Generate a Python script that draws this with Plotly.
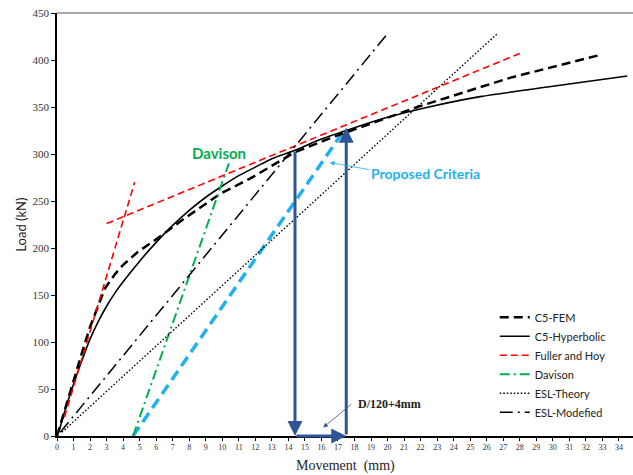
import plotly.graph_objects as go

# ---------------- data ----------------
fem_x = [0.0, 0.5, 1.0, 1.5, 2.0, 2.5, 2.9, 3.5, 4.0, 4.9, 5.9, 7.6, 9.9, 11.7, 14.4, 16.7, 21.8, 27.4, 33.0]
fem_y = [0, 30, 58, 88, 116, 140, 157, 172, 182, 196, 208, 230, 258, 274, 302, 318, 350, 381, 406]

hyp_x = [0.1, 0.5, 1.0, 1.5, 2.0, 2.5, 3.0, 3.5, 4.0, 5.0, 6.0, 7.0, 8.0, 9.0, 10.0, 11.0, 12.0, 13.0,
         14.4, 16.0, 18.0, 20.0, 22.5, 25.6, 30.0, 34.5]
hyp_y = [4, 28, 55, 80, 103, 122, 138, 152, 164, 186, 206, 224, 240, 254, 266, 277, 286, 295,
         304, 316, 328, 339, 350, 361, 372, 383]

fuller_steep_x = [0.45, 4.7]
fuller_steep_y = [20, 270]
fuller_flat_x = [3.0, 28.0]
fuller_flat_y = [226, 407]

davison_x = [4.6, 10.4]
davison_y = [0, 290]

proposed_x = [4.6, 17.4]
proposed_y = [0, 326]

esl_theory_x = [0.3, 26.7]
esl_theory_y = [4, 429]

esl_mod_x = [0.2, 20.0]
esl_mod_y = [4, 428]

# criteria markers
davison_failure_mm = 14.4
davison_failure_kn = 304
proposed_failure_mm = 17.5
proposed_failure_kn = 328

x_ticks = list(range(0, 36))
y_ticks = list(range(0, 451, 50))

# ---------------- figure ----------------
fig = go.Figure()

fig.add_trace(go.Scatter(x=proposed_x, y=proposed_y, mode="lines", showlegend=False,
                         line=dict(color="#1FB1EC", width=3.5, dash="11px,6px")))
fig.add_trace(go.Scatter(x=fem_x, y=fem_y, mode="lines", name="C5-FEM",
                         line=dict(color="black", width=2.5, dash="9px,5px")))
fig.add_trace(go.Scatter(x=hyp_x, y=hyp_y, mode="lines", name="C5-Hyperbolic",
                         line=dict(color="black", width=1.6, shape="spline", smoothing=0.8)))
fig.add_trace(go.Scatter(x=fuller_steep_x, y=fuller_steep_y, mode="lines", name="Fuller and Hoy",
                         legendgroup="fh", line=dict(color="#FF0000", width=1.6, dash="7px,4px")))
fig.add_trace(go.Scatter(x=fuller_flat_x, y=fuller_flat_y, mode="lines", showlegend=False,
                         legendgroup="fh", line=dict(color="#FF0000", width=1.6, dash="7px,4px")))
fig.add_trace(go.Scatter(x=davison_x, y=davison_y, mode="lines", name="Davison",
                         line=dict(color="#00B050", width=2, dash="10px,4px,2px,4px")))
fig.add_trace(go.Scatter(x=esl_theory_x, y=esl_theory_y, mode="lines", name="ESL-Theory",
                         line=dict(color="black", width=1.4, dash="1.5px,2px")))
fig.add_trace(go.Scatter(x=esl_mod_x, y=esl_mod_y, mode="lines", name="ESL-Modefied",
                         line=dict(color="black", width=1.5, dash="13px,5px,2px,5px")))

arrow_color = "#2F5597"
ann = []
# downward arrow at Davison failure
ann.append(dict(x=davison_failure_mm, y=0, ax=davison_failure_mm, ay=davison_failure_kn,
                xref="x", yref="y", axref="x", ayref="y", text="", showarrow=True,
                arrowhead=2, arrowsize=1, arrowwidth=3, arrowcolor=arrow_color, standoff=0))
# upward arrow at proposed failure
ann.append(dict(x=proposed_failure_mm, y=proposed_failure_kn, ax=proposed_failure_mm, ay=0,
                xref="x", yref="y", axref="x", ayref="y", text="", showarrow=True,
                arrowhead=2, arrowsize=1, arrowwidth=3, arrowcolor=arrow_color, standoff=0))
# horizontal arrow between them
ann.append(dict(x=proposed_failure_mm, y=0, ax=davison_failure_mm, ay=0,
                xref="x", yref="y", axref="x", ayref="y", text="", showarrow=True,
                arrowhead=2, arrowsize=1, arrowwidth=3, arrowcolor=arrow_color, standoff=0))
# D/120+4mm label and pointer
ann.append(dict(x=16.1, y=9, ax=17.9, ay=35, xref="x", yref="y", axref="x", ayref="y",
                text="", showarrow=True, arrowhead=2, arrowsize=1.2, arrowwidth=0.8,
                arrowcolor=arrow_color, standoff=0))
ann.append(dict(x=20.1, y=34, xref="x", yref="y", text="<b>D/120+4mm</b>", showarrow=False,
                font=dict(family="Liberation Serif", size=12, color="#222")))
# Proposed criteria label and pointer
ann.append(dict(x=16.5, y=291, ax=19.0, ay=283, xref="x", yref="y", axref="x", ayref="y",
                text="", showarrow=True, arrowhead=2, arrowsize=1.2, arrowwidth=0.8,
                arrowcolor="#1FB1EC", standoff=0))
ann.append(dict(x=22.3, y=279, xref="x", yref="y", text="<b>Proposed Criteria</b>", showarrow=False,
                font=dict(family="Lato", size=14, color="#1FB1EC")))
# Davison label
ann.append(dict(x=9.8, y=301, xref="x", yref="y", text="<b>Davison</b>", showarrow=False,
                font=dict(family="Lato", size=15, color="#00B050")))
# axis titles
ann.append(dict(x=-0.064, y=0.5, xref="paper", yref="paper", text="Load (kN)", showarrow=False,
                textangle=-90, xanchor="center", yanchor="middle",
                font=dict(family="Lato", size=13, color="#222")))
ann.append(dict(x=0.5, y=-0.07, xref="paper", yref="paper", text="Movement&nbsp;&nbsp;(mm)",
                showarrow=False, xanchor="center", yanchor="middle",
                font=dict(family="Liberation Serif", size=14, color="#222")))

fig.update_layout(
    width=633, height=475,
    margin=dict(l=57, r=0, t=13, b=39),
    paper_bgcolor="white", plot_bgcolor="white",
    annotations=ann,
    legend=dict(x=0.76, y=0.315, xanchor="left", yanchor="top",
                font=dict(family="Lato", size=11, color="#222"),
                bgcolor="rgba(0,0,0,0)", itemwidth=30, tracegroupgap=0),
)
fig.update_xaxes(range=[0, 34.85], tickvals=x_ticks, ticks="outside", ticklen=3,
                 tickcolor="black", showline=True, linecolor="black", linewidth=1.5,
                 mirror=False, showgrid=False, zeroline=False,
                 tickfont=dict(family="Liberation Serif", size=8, color="#333"))
fig.update_yaxes(range=[0, 450], tickvals=y_ticks, ticks="outside", ticklen=4,
                 tickcolor="black", showline=True, linecolor="black", linewidth=1.5,
                 showgrid=False, zeroline=False,
                 tickfont=dict(family="Liberation Serif", size=11, color="#333"))
# top frame line
fig.add_shape(type="line", xref="paper", yref="paper", x0=0, x1=1, y0=1, y1=1,
              line=dict(color="#555", width=1.2))

fig.write_html("out.html")
